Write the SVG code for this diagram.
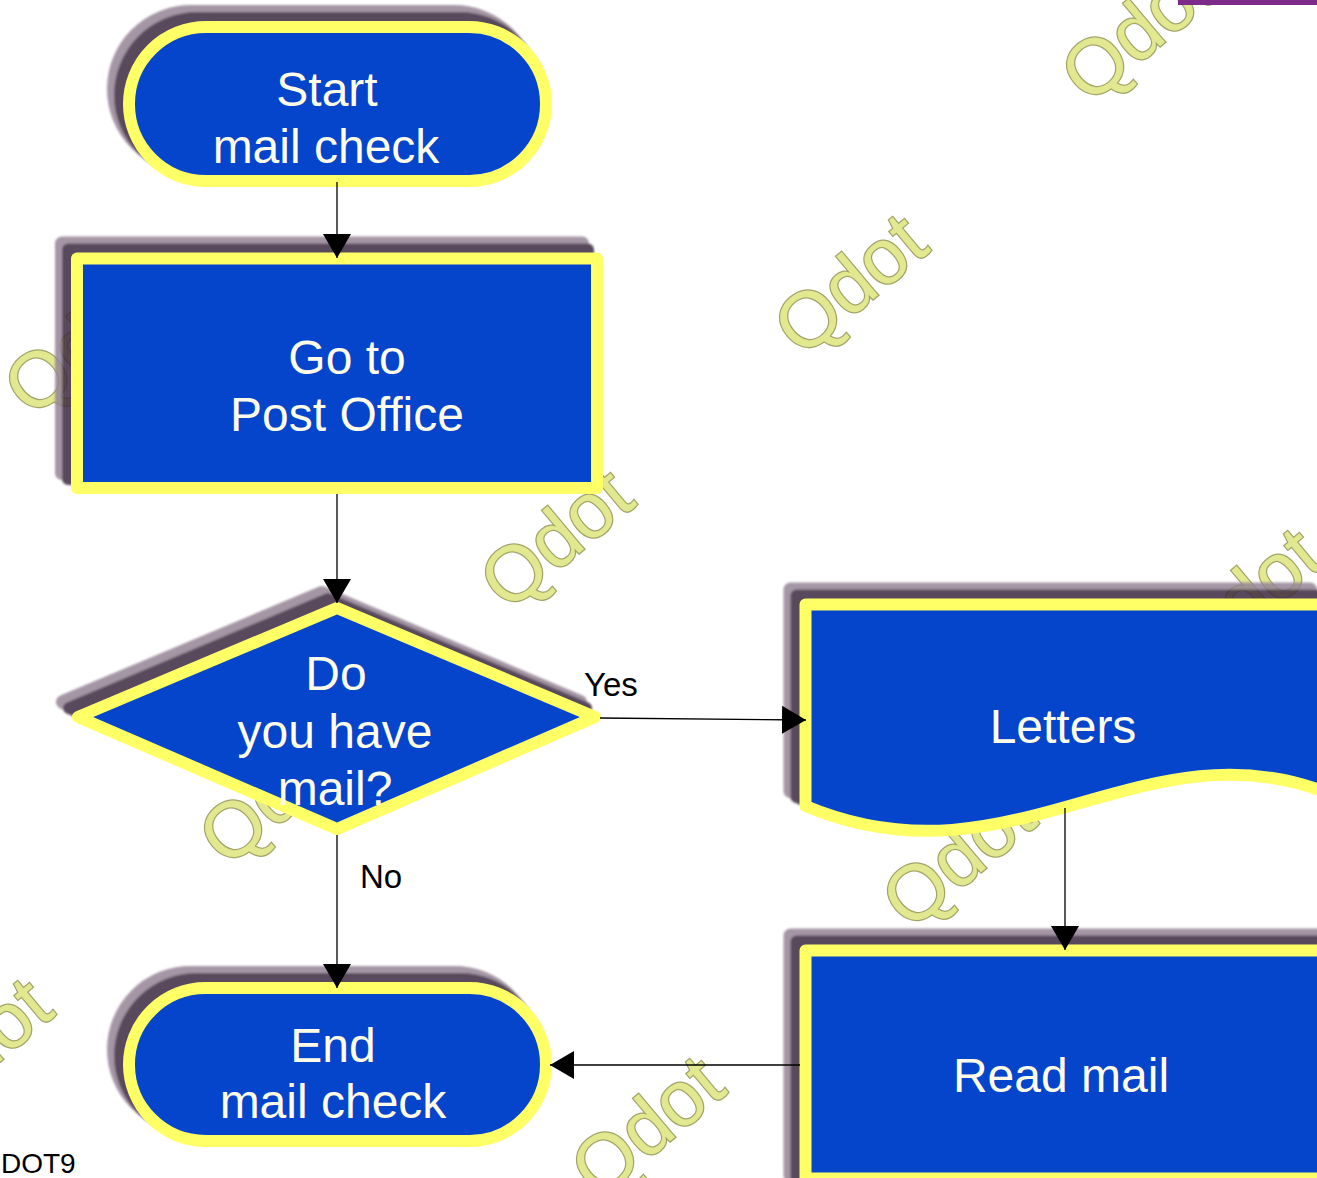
<svg xmlns="http://www.w3.org/2000/svg" width="1317" height="1178" viewBox="0 0 1317 1178">
  <defs>
    <style>
      .shape { fill: #0445CC; stroke: #FFFF66; stroke-width: 12; stroke-linejoin: round; }
      .halo { fill: #958496; stroke: #958496; stroke-width: 14; stroke-linejoin: round; }
      .dark { fill: #3e2a3f; stroke: #3e2a3f; stroke-width: 12; stroke-linejoin: round; }
      .label { font-family: "Liberation Sans", Arial, sans-serif; font-size: 48px; fill: #FFFCE8; text-anchor: middle; }
      .edge-label { font-family: "Liberation Sans", Arial, sans-serif; font-size: 33px; fill: #000000; }
      .wm { font-family: "Liberation Sans", Arial, sans-serif; font-size: 78px; fill: #E1E890; stroke: #A2A468; stroke-width: 2.5; paint-order: stroke; text-anchor: middle; }
      .conn { stroke: #000000; stroke-width: 1.3; fill: none; marker-end: url(#arrow); }
    </style>
    <filter id="soft" x="-10%" y="-10%" width="120%" height="120%">
      <feGaussianBlur stdDeviation="1"/>
    </filter>
    <marker id="arrow" markerUnits="userSpaceOnUse" markerWidth="24" markerHeight="28" refX="24" refY="14" orient="auto">
      <path d="M0,0 L24,14 L0,28 Z" fill="#000000"/>
    </marker>
  </defs>

  <rect x="0" y="0" width="1317" height="1178" fill="#FFFFFF"/>

  <!-- background watermark stamps -->
  <g id="watermarks">
    <text class="wm" transform="translate(1136,30) rotate(-40)" y="28">Qdot</text>
    <text class="wm" transform="translate(849,283) rotate(-40)" y="28">Qdot</text>
    <text class="wm" transform="translate(555,537) rotate(-40)" y="28">Qdot</text>
    <text class="wm" transform="translate(79,343) rotate(-40)" y="28">Qdot</text>
    <text class="wm" transform="translate(274,793) rotate(-40)" y="28">Qdot</text>
    <text class="wm" transform="translate(957,856) rotate(-40)" y="28">Qdot</text>
    <text class="wm" transform="translate(1244,597) rotate(-40)" y="28">Qdot</text>
    <text class="wm" transform="translate(-26,1047) rotate(-40)" y="28">Qdot</text>
    <text class="wm" transform="translate(646,1125) rotate(-40)" y="28">Qdot</text>
  </g>

  <!-- purple frame edge at top right -->
  <rect x="1178" y="0" width="139" height="5" fill="#7D2B8B"/>

  <!-- Start terminator -->
  <g id="start">
    <g opacity="0.85" filter="url(#soft)">
      <rect class="halo" x="114" y="12" width="417" height="154" rx="77"/>
      <rect class="dark" x="120" y="18" width="417" height="154" rx="77"/>
    </g>
    <rect class="shape" x="129" y="27" width="417" height="154" rx="77"/>
    <text class="label" x="327" y="106">Start</text>
    <text class="label" x="326" y="163">mail check</text>
  </g>

  <!-- Go to Post Office process -->
  <g id="post-office">
    <g opacity="0.85" filter="url(#soft)">
      <rect class="halo" x="62" y="243.5" width="520" height="229.5"/>
      <rect class="dark" x="68" y="249.5" width="520" height="229.5"/>
    </g>
    <rect class="shape" x="77" y="258.5" width="520" height="229.5"/>
    <text class="label" x="347" y="374">Go to</text>
    <text class="label" x="347" y="431">Post Office</text>
  </g>

  <!-- Decision -->
  <g id="decision">
    <g opacity="0.85" filter="url(#soft)">
      <path class="halo" d="M322,593 L580,702 L322,814 L63,702 Z"/>
      <path class="dark" d="M328,599 L586,708 L328,820 L69,708 Z"/>
    </g>
    <path class="shape" d="M337,608 L595,717 L337,829 L78,717 Z"/>
    <text class="label" x="336" y="690">Do</text>
    <text class="label" x="335" y="748">you have</text>
    <text class="label" x="335" y="805">mail?</text>
  </g>

  <!-- Letters document -->
  <g id="letters">
    <g opacity="0.85" filter="url(#soft)">
      <path class="halo" d="M790.5,589.5 H1310 V777 C1125,707 995,877 790.5,791 Z"/>
      <path class="dark" d="M796.5,595.5 H1316 V783 C1131,713 1001,883 796.5,797 Z"/>
    </g>
    <path class="shape" d="M805.5,604.5 H1325 V792 C1140,722 1010,892 805.5,806 Z"/>
    <text class="label" x="1063" y="743">Letters</text>
  </g>

  <!-- Read mail process -->
  <g id="read-mail">
    <g opacity="0.85" filter="url(#soft)">
      <rect class="halo" x="790.5" y="935.5" width="540" height="240"/>
      <rect class="dark" x="796.5" y="941.5" width="540" height="240"/>
    </g>
    <rect class="shape" x="805.5" y="950.5" width="530" height="228"/>
    <text class="label" x="1061" y="1092">Read mail</text>
  </g>

  <!-- End terminator -->
  <g id="end">
    <g opacity="0.85" filter="url(#soft)">
      <rect class="halo" x="114" y="973" width="417" height="153" rx="76.5"/>
      <rect class="dark" x="120" y="979" width="417" height="153" rx="76.5"/>
    </g>
    <rect class="shape" x="129" y="988" width="417" height="153" rx="76.5"/>
    <text class="label" x="333" y="1062">End</text>
    <text class="label" x="333" y="1118">mail check</text>
  </g>

  <!-- connectors -->
  <g id="connectors">
    <line class="conn" x1="337" y1="182" x2="337" y2="258"/>
    <line class="conn" x1="337" y1="494" x2="337" y2="603"/>
    <line class="conn" x1="600" y1="718" x2="806" y2="720"/>
    <line class="conn" x1="337" y1="835" x2="337" y2="988"/>
    <line class="conn" x1="1065" y1="808" x2="1065" y2="950"/>
    <line class="conn" x1="800" y1="1065" x2="550" y2="1065"/>
    <text class="edge-label" x="584" y="696">Yes</text>
    <text class="edge-label" x="360" y="888">No</text>
  </g>

  <text x="1" y="1173" font-family="Liberation Sans, Arial, sans-serif" font-size="28" fill="#000000">DOT9</text>
</svg>
